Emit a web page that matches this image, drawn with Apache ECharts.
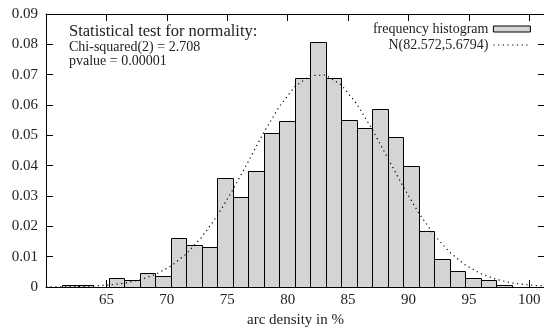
<!DOCTYPE html>
<html>
<head>
<meta charset="utf-8">
<script src="https://cdn.jsdelivr.net/npm/echarts@6/dist/echarts.min.js"></script>
<style>html,body{margin:0;padding:0;background:#fff}#c{width:544px;height:327px}</style>
</head>
<body>
<div id="c"></div>
<script>
// Histogram bin lower edges (arc density in %)
const binEdges = [61.34, 62.62, 63.91, 65.19, 66.47, 67.75, 69.04, 70.32, 71.60, 72.88,
  74.17, 75.45, 76.73, 78.01, 79.30, 80.58, 81.86, 83.14, 84.43, 85.71,
  86.99, 88.27, 89.56, 90.84, 92.12, 93.40, 94.69, 95.97, 97.25, 98.53];
// Relative frequency of each bin
const binHeights = [0.0007, 0.0007, 0, 0.0031, 0.0022, 0.0046, 0.0037, 0.0163, 0.0139, 0.0132,
  0.0359, 0.0296, 0.0384, 0.0508, 0.0547, 0.0690, 0.0807, 0.0690, 0.0549, 0.0525,
  0.0588, 0.0493, 0.0400, 0.0186, 0.0093, 0.0053, 0.0031, 0.0022, 0.0007];
// Normal fit curve, read at sample points
const curveX = [60, 61.34, 62.62, 63.91, 65.19, 66.47, 67.75, 69.04, 70.32, 71.60, 72.88,
  74.17, 75.45, 76.73, 78.01, 79.30, 80.58, 81.86, 83.14, 84.43, 85.71,
  86.99, 88.27, 89.56, 90.84, 92.12, 93.40, 94.69, 95.97, 97.25, 98.53, 100, 101.3];
const curveY = [0.00003, 0.00007, 0.00015, 0.00032, 0.00065, 0.00126, 0.00233, 0.00409, 0.00683, 0.01087, 0.01638,
  0.02346, 0.03193, 0.04131, 0.05081, 0.05944, 0.06602, 0.06968, 0.06991, 0.06666, 0.06042,
  0.05205, 0.04262, 0.03309, 0.02447, 0.0172, 0.01149, 0.00729, 0.0044, 0.00252, 0.00135, 0.00063, 0.0003];
const xTicks = [65, 70, 75, 80, 85, 90, 95, 100];
const yTicks = ['0', '0.01', '0.02', '0.03', '0.04', '0.05', '0.06', '0.07', '0.08', '0.09'];
const histName = 'frequency histogram';
const curveName = 'N(82.572,5.6794)';
const statTitle = 'Statistical test for normality:';
const statLines = ['Chi-squared(2) = 2.708', 'pvalue = 0.00001'];
const xTitle = 'arc density in %';

const binWidth = binEdges[1] - binEdges[0];
const histData = binHeights.map((h, i) => [binEdges[i], binEdges[i + 1] !== undefined ? binEdges[i + 1] : binEdges[i] + binWidth, h]);
const curveData = curveX.map((x, i) => [x, curveY[i]]);

const FONT = 'Liberation Serif';
const TXT = '#222';
const chart = echarts.init(document.getElementById('c'), null, {renderer: 'canvas'});
const tickStyle = {show: true, inside: true, length: 7, lineStyle: {color: '#000', width: 1}};
const lineStyle = {show: true, onZero: false, lineStyle: {color: '#000', width: 1}};
chart.setOption({
  animation: false,
  backgroundColor: '#fff',
  grid: {left: 46, right: -1, top: 14, bottom: 40, containLabel: false, outerBoundsMode: 'none'},
  title: {
    text: statTitle,
    subtext: statLines.join('\n'),
    left: 69, top: 23, padding: 0,
    itemGap: 0,
    textStyle: {fontFamily: FONT, fontSize: 16.5, fontWeight: 'normal', color: TXT},
    subtextStyle: {fontFamily: FONT, fontSize: 14, color: TXT, lineHeight: 14}
  },
  legend: {
    orient: 'vertical', right: 13, top: 22, align: 'right', itemGap: 2, padding: 0,
    itemWidth: 37, itemHeight: 6,
    textStyle: {fontFamily: FONT, fontSize: 14, color: TXT},
    data: [
      {name: histName, icon: 'rect', itemStyle: {color: '#d4d4d4', borderColor: '#000', borderWidth: 1}},
      {name: curveName, itemStyle: {opacity: 0}, lineStyle: {color: '#000', width: 1.2, type: [1.2, 3.5]}}
    ]
  },
  xAxis: [{
    type: 'value', min: 60, max: 101.3, interval: 5, position: 'bottom',
    axisLine: lineStyle, axisTick: tickStyle, splitLine: {show: false},
    axisLabel: {
      showMinLabel: false, showMaxLabel: false, margin: 6,
      fontFamily: FONT, fontSize: 15, color: TXT,
      formatter: v => xTicks.indexOf(v) >= 0 ? String(v) : ''
    },
    name: xTitle, nameLocation: 'middle', nameGap: 20,
    nameTextStyle: {fontFamily: FONT, fontSize: 15, color: TXT, padding: [0, 0, 0, 0]}
  }, {
    type: 'value', min: 60, max: 101.3, interval: 5, position: 'top',
    axisLine: lineStyle, axisTick: tickStyle, splitLine: {show: false},
    axisLabel: {show: false}
  }],
  yAxis: [{
    type: 'value', min: 0, max: 0.09, interval: 0.01, position: 'left',
    axisLine: lineStyle, axisTick: tickStyle, splitLine: {show: false},
    axisLabel: {
      margin: 8, fontFamily: FONT, fontSize: 15, color: TXT,
      formatter: v => yTicks[Math.round(v * 100)]
    }
  }, {
    type: 'value', min: 0, max: 0.09, interval: 0.01, position: 'right',
    axisLine: lineStyle, axisTick: tickStyle, splitLine: {show: false},
    axisLabel: {show: false}
  }],
  series: [{
    name: histName,
    type: 'custom',
    xAxisIndex: 0, yAxisIndex: 0,
    itemStyle: {color: '#d4d4d4', borderColor: '#000', borderWidth: 1},
    encode: {x: [0, 1], y: 2},
    renderItem: function (params, api) {
      const p0 = api.coord([api.value(0), api.value(2)]);
      const p1 = api.coord([api.value(1), 0]);
      return {
        type: 'rect',
        shape: {x: Math.round(p0[0]) + 0.5, y: Math.round(p0[1]) + 0.5, width: Math.round(p1[0]) - Math.round(p0[0]), height: Math.round(p1[1]) - Math.round(p0[1])},
        style: {fill: '#d4d4d4', stroke: '#000', lineWidth: 1}
      };
    },
    data: histData
  }, {
    name: curveName,
    type: 'line',
    xAxisIndex: 0, yAxisIndex: 0,
    symbol: 'none', smooth: false,
    lineStyle: {color: '#000', width: 1.2, type: [1.2, 3.5]},
    itemStyle: {color: '#000'},
    data: curveData,
    z: 5
  }]
});
</script>
</body>
</html>
